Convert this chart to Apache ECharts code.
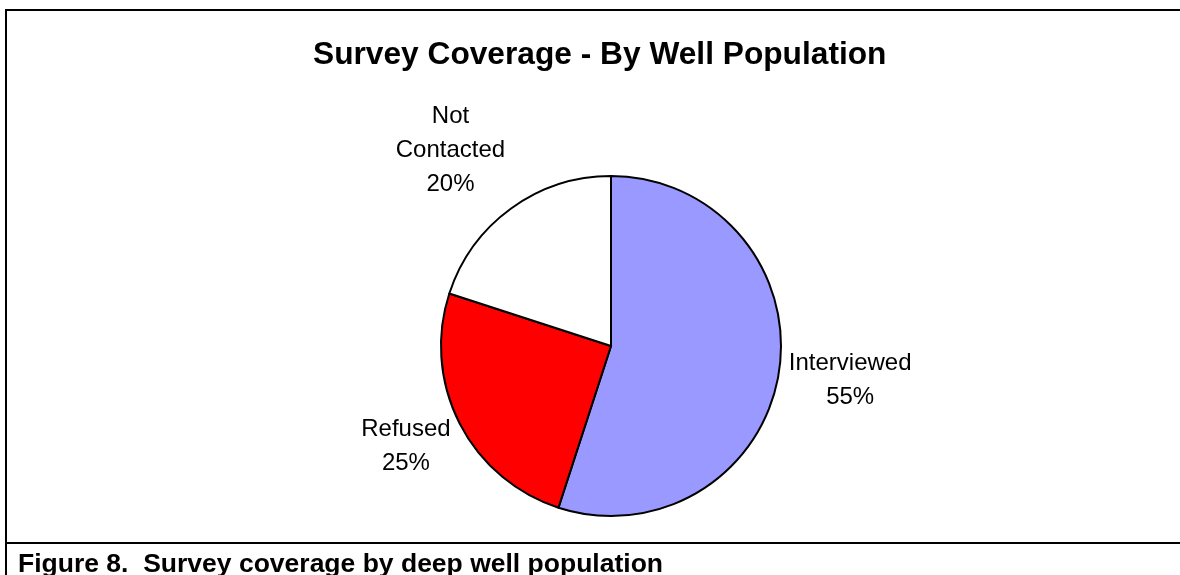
<!DOCTYPE html>
<html>
<head>
<meta charset="utf-8">
<script src="https://cdn.jsdelivr.net/npm/echarts@6/dist/echarts.min.js"></script>
<style>
  html, body { margin: 0; padding: 0; background: #fff; }
  #chart { width: 1180px; height: 575px; }
</style>
</head>
<body>
<div id="chart"></div>
<script>
// Survey outcome categories and their share of the well population (%)
const categories = ['Interviewed', 'Refused', 'Not Contacted'];
const shares = [55, 25, 20];
const sliceColors = ['#9999FF', '#FF0000', '#FFFFFF'];

const titleText = 'Survey Coverage - By Well Population';
const captionText = 'Figure 8.  Survey coverage by deep well population';

const FONT = '"Liberation Sans", Arial, sans-serif';
const CX = 611, CY = 346, R = 170;   // pie centre and radius (px)
const LABEL_GAP = 10;                // distance from rim to label box

const total = shares.reduce((a, b) => a + b, 0);
// mid-angle of each slice, starting at 12 o'clock and running clockwise
const midAngles = [];
let acc = 0;
shares.forEach(v => {
  const frac = (acc + v / 2) / total;
  midAngles.push(Math.PI / 2 - frac * 2 * Math.PI);
  acc += v;
});

const clamp = (v) => Math.max(-1, Math.min(1, v));

const chart = echarts.init(document.getElementById('chart'), null, { renderer: 'canvas' });

chart.setOption({
  animation: false,
  backgroundColor: '#ffffff',
  title: [
    {
      text: titleText,
      left: 308,
      top: 34,
      textStyle: { fontFamily: FONT, fontSize: 31.7, fontWeight: 'bold', color: '#000' }
    },
    {
      text: captionText,
      left: 18,
      top: 551,
      padding: 0,
      textStyle: { fontFamily: FONT, fontSize: 26.5, fontWeight: 'bold', color: '#000' }
    }
  ],
  graphic: [
    // chart frame: left edge, top edge, and rule above the caption
    { type: 'line', shape: { x1: 6, y1: 9, x2: 6, y2: 575 }, style: { stroke: '#000', lineWidth: 2 }, silent: true },
    { type: 'line', shape: { x1: 6, y1: 10, x2: 1180, y2: 10 }, style: { stroke: '#000', lineWidth: 2 }, silent: true },
    { type: 'line', shape: { x1: 6, y1: 543, x2: 1180, y2: 543 }, style: { stroke: '#000', lineWidth: 2 }, silent: true }
  ],
  series: [
    {
      type: 'pie',
      center: [CX, CY],
      radius: [0, R],
      startAngle: 90,
      clockwise: true,
      avoidLabelOverlap: false,
      emphasis: { disabled: true },
      itemStyle: { borderColor: '#000', borderWidth: 2 },
      label: {
        show: true,
        position: 'outside',
        fontFamily: FONT,
        fontSize: 24,
        lineHeight: 34,
        color: '#000',
        formatter: (p) => p.name.replace(' ', '\n') + '\n' + Math.round(p.percent) + '%'
      },
      labelLine: { show: false },
      // place each label box just outside the rim, on its slice's mid-angle
      labelLayout: (p) => {
        const a = midAngles[p.dataIndex];
        const dx = Math.cos(a), dy = -Math.sin(a);
        const px = CX + dx * (R + LABEL_GAP);
        const py = CY + dy * (R + LABEL_GAP);
        const hw = p.labelRect.width / 2, hh = p.labelRect.height / 2;
        return {
          x: px + hw * clamp(dx * 2),
          y: py + hh * clamp(dy * 1.2),
          align: 'center',
          verticalAlign: 'middle'
        };
      },
      data: categories.map((name, i) => ({
        name,
        value: shares[i],
        itemStyle: { color: sliceColors[i] }
      }))
    }
  ]
});
</script>
</body>
</html>
